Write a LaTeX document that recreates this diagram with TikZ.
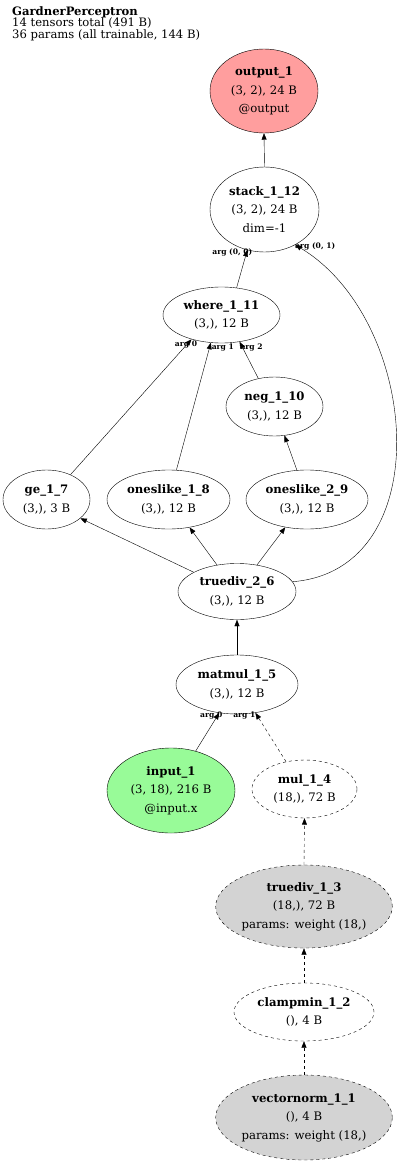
\documentclass[tikz,border=0pt]{standalone}
\usepackage{fontspec}
\setmainfont{DejaVu Serif}
\usetikzlibrary{shapes.geometric,arrows.meta}
\definecolor{outred}{HTML}{FF9E9E}
\definecolor{ingreen}{HTML}{98FB98}
\definecolor{pargray}{HTML}{D3D3D3}
\begin{document}
\begin{tikzpicture}[x=1pt,y=-1pt,>={Triangle[length=6.5pt,width=5pt]},
  op/.style={ellipse,draw,inner sep=0pt,align=center,font=\fontsize{11.7}{18.5}\selectfont},
  prm/.style={op,dashed,fill=pargray},
  argl/.style={font=\fontsize{7.6}{8}\selectfont\bfseries,inner sep=0pt}]
  \useasboundingbox (0,0) rectangle (400,1164);
  \node[anchor=north west,align=left,inner sep=0pt,font=\fontsize{11.6}{11.7}\selectfont] (title) at (12,6) {\textbf{GardnerPerceptron}\\14 tensors total (491 B)\\36 params (all trainable, 144 B)};
  \node[op,fill=outred,minimum width=108pt,minimum height=84pt] (out) at (264,91) {\textbf{output\_1}\\(3, 2), 24 B\\@output};
  \node[op,minimum width=109pt,minimum height=85pt] (s12) at (264.5,209.5) {\textbf{stack\_1\_12}\\(3, 2), 24 B\\dim=-1};
  \node[op,minimum width=117pt,minimum height=56pt] (where) at (221.5,315) {\textbf{where\_1\_11}\\(3,), 12 B};
  \node[op,minimum width=97pt,minimum height=59pt] (neg) at (274.5,406.5) {\textbf{neg\_1\_10}\\(3,), 12 B};
  \node[op,minimum width=87pt,minimum height=59pt] (ge) at (46.5,499.5) {\textbf{ge\_1\_7}\\(3,), 3 B};
  \node[op,minimum width=123pt,minimum height=59pt] (o18) at (168.5,499.5) {\textbf{oneslike\_1\_8}\\(3,), 12 B};
  \node[op,minimum width=122pt,minimum height=59pt] (o29) at (307,499.5) {\textbf{oneslike\_2\_9}\\(3,), 12 B};
  \node[op,minimum width=118pt,minimum height=56pt] (t26) at (237,591.5) {\textbf{truediv\_2\_6}\\(3,), 12 B};
  \node[op,minimum width=122pt,minimum height=59pt] (mm) at (237,684.5) {\textbf{matmul\_1\_5}\\(3,), 12 B};
  \node[op,fill=ingreen,minimum width=128pt,minimum height=85pt] (inp) at (171,790.5) {\textbf{input\_1}\\(3, 18), 216 B\\@input.x};
  \node[op,dashed,minimum width=105pt,minimum height=58pt] (mul) at (304.5,789) {\textbf{mul\_1\_4}\\(18,), 72 B};
  \node[prm,minimum width=176pt,minimum height=83pt] (t13) at (304,906.5) {\textbf{truediv\_1\_3}\\(18,), 72 B\\params: weight (18,)};
  \node[op,dashed,minimum width=140pt,minimum height=58pt] (cm) at (304,1012) {\textbf{clampmin\_1\_2}\\(), 4 B};
  \node[prm,minimum width=176pt,minimum height=85pt] (vn) at (304,1117.5) {\textbf{vectornorm\_1\_1}\\(), 4 B\\params: weight (18,)};
  \draw[->] (s12.north) -- (out.south);
  \draw[->] (where.61) -- (s12.247) node[argl,pos=1,xshift=-15pt,yshift=-2pt] {arg (0, 0)};
  \draw[->] (t26.10) .. controls (440,570) and (420,320) .. (s12.311) node[argl,pos=1,xshift=20pt,yshift=-2pt] {arg (0, 1)};
  \draw[->] (ge.46) -- (where.219) node[argl,pos=1,xshift=-5.5pt,yshift=-5.5pt] {arg 0};
  \draw[->] (o18.75) -- (where.249) node[argl,pos=1,xshift=12pt,yshift=-5pt] {arg 1};
  \draw[->] (neg.120) -- (where.304) node[argl,pos=1,xshift=12pt,yshift=-6pt] {arg 2};
  \draw[->] (o29.109) -- (neg.289);
  \draw[->] (t26.156) -- (ge.331);
  \draw[->] (t26.127) -- (o18.307);
  \draw[->] (t26.53) -- (o29.232);
  \draw[->] (mm.north) -- (t26.south);
  \draw[->] (inp.58) -- (mm.238) node[argl,pos=1,xshift=-8pt,yshift=-3pt] {arg 0};
  \draw[->,dashed] (mul.124) -- (mm.303) node[argl,pos=1,xshift=-11pt,yshift=-3pt] {arg 1};
  \draw[->,dashed] (t13.north) -- (mul.south);
  \draw[->,dashed] (cm.north) -- (t13.south);
  \draw[->,dashed] (vn.north) -- (cm.south);
\end{tikzpicture}
\end{document}
